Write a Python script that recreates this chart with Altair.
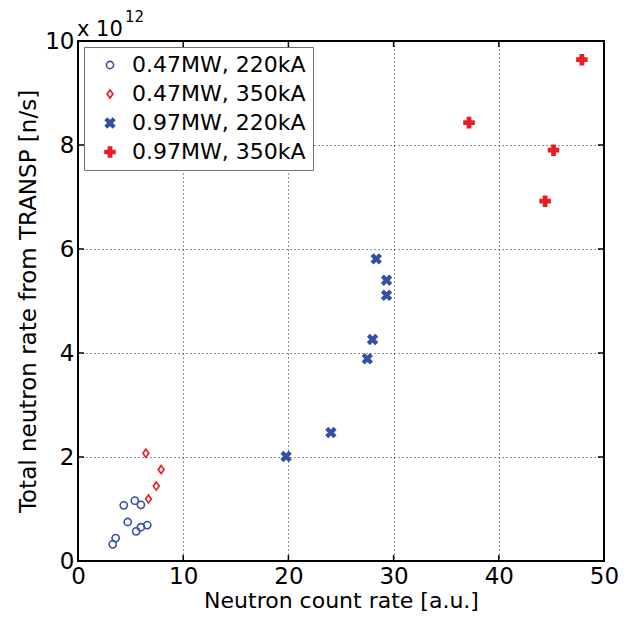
import altair as alt
import pandas as pd

series_names = ["0.47MW, 220kA", "0.47MW, 350kA", "0.97MW, 220kA", "0.97MW, 350kA"]

x_047_220 = [3.3, 3.58, 4.35, 4.73, 5.4, 5.98, 5.53, 5.98, 6.58]
y_047_220 = [0.32, 0.44, 1.07, 0.75, 1.16, 1.08, 0.57, 0.65, 0.69]

x_047_350 = [6.45, 7.9, 7.44, 6.7]
y_047_350 = [2.07, 1.76, 1.44, 1.19]

x_097_220 = [28.35, 29.33, 29.33, 28.0, 27.5, 24.04, 19.78]
y_097_220 = [5.81, 5.40, 5.11, 4.26, 3.89, 2.47, 2.01]

x_097_350 = [47.9, 37.17, 45.2, 44.4]
y_097_350 = [9.64, 8.43, 7.9, 6.92]

x_ticks = [0, 10, 20, 30, 40, 50]
y_ticks = [0, 2, 4, 6, 8, 10]

rows = []
for name, xs, ys in zip(series_names,
                        [x_047_220, x_047_350, x_097_220, x_097_350],
                        [y_047_220, y_047_350, y_097_220, y_097_350]):
    for a, b in zip(xs, ys):
        rows.append({"series": name, "x": a, "y": b})
df = pd.DataFrame(rows)

BLUE = "#3450A2"
RED = "#EC1C24"
DIAMOND_PATH = "M0,-1L0.72,0L0,1L-0.72,0Z"
X_PATH = ("M-1,-0.6L-0.6,-1L0,-0.4L0.6,-1L1,-0.6L0.4,0L1,0.6L0.6,1L0,0.4"
          "L-0.6,1L-1,0.6L-0.4,0Z")
PLUS_PATH = ("M-0.3,-1L0.3,-1L0.3,-0.3L1,-0.3L1,0.3L0.3,0.3L0.3,1L-0.3,1"
             "L-0.3,0.3L-1,0.3L-1,-0.3L-0.3,-0.3Z")

W, H = 526, 520
FONT = "DejaVu Sans"

xscale = alt.Scale(domain=[0, 50], nice=False)
yscale = alt.Scale(domain=[0, 10], nice=False)

points = alt.Chart(df).mark_point(filled=False, opacity=1, fillOpacity=1).encode(
    x=alt.X("x:Q", scale=xscale,
            axis=alt.Axis(values=x_ticks, title="Neutron count rate [a.u.]",
                          labelPadding=4, titlePadding=2)),
    y=alt.Y("y:Q", scale=yscale,
            axis=alt.Axis(values=y_ticks, title="Total neutron rate from TRANSP  [n/s]",
                          labelPadding=4, titlePadding=4, titleFontSize=23)),
    color=alt.Color("series:N", scale=alt.Scale(domain=series_names, range=[BLUE, RED, BLUE, RED]),
                    legend=alt.Legend(title=None)),
    fill=alt.Fill("series:N", scale=alt.Scale(domain=series_names,
                                              range=["transparent", "transparent", BLUE, RED]),
                  legend=alt.Legend(title=None)),
    shape=alt.Shape("series:N", scale=alt.Scale(domain=series_names,
                                                range=["circle", DIAMOND_PATH, X_PATH, PLUS_PATH]),
                    legend=alt.Legend(title=None)),
    strokeWidth=alt.StrokeWidth("series:N", scale=alt.Scale(domain=series_names, range=[1.6, 1.8, 0.8, 0.8]),
                                legend=alt.Legend(title=None)),
    size=alt.Size("series:N", scale=alt.Scale(domain=series_names, range=[52, 95, 120, 120]),
                  legend=None),
)

tick_df = pd.DataFrame({"v": x_ticks})
ytick_df = pd.DataFrame({"v": y_ticks})
xt_bottom = alt.Chart(tick_df).mark_rule(color="black", strokeWidth=1.5).encode(
    x=alt.X("v:Q", scale=xscale), y=alt.value(H), y2=alt.value(H - 6))
xt_top = alt.Chart(tick_df).mark_rule(color="black", strokeWidth=1.5).encode(
    x=alt.X("v:Q", scale=xscale), y=alt.value(0), y2=alt.value(6))
yt_left = alt.Chart(ytick_df).mark_rule(color="black", strokeWidth=1.5).encode(
    y=alt.Y("v:Q", scale=yscale), x=alt.value(0), x2=alt.value(6))
yt_right = alt.Chart(ytick_df).mark_rule(color="black", strokeWidth=1.5).encode(
    y=alt.Y("v:Q", scale=yscale), x=alt.value(W), x2=alt.value(W - 6))

exp_base = alt.Chart(pd.DataFrame({"t": ["x 10"]})).mark_text(
    font=FONT, fontSize=21, align="left", baseline="alphabetic", color="black").encode(
    text="t:N", x=alt.value(-1), y=alt.value(-5))
exp_pow = alt.Chart(pd.DataFrame({"t": ["12"]})).mark_text(
    font=FONT, fontSize=15, align="left", baseline="alphabetic", color="black").encode(
    text="t:N", x=alt.value(47), y=alt.value(-19))

chart = alt.layer(xt_bottom, xt_top, yt_left, yt_right, points, exp_base, exp_pow).resolve_scale(
    x="shared", y="shared"
).properties(
    width=W, height=H,
    autosize=alt.AutoSizeParams(type="none"),
    padding={"left": 70, "top": 33, "right": 20, "bottom": 60},
).configure_view(
    stroke="black", strokeWidth=2
).configure_axis(
    labelFlush=False, grid=True, gridDash=[1, 3], gridColor="#000000", gridOpacity=0.85,
    domain=False, ticks=False, labelFontSize=23, titleFontSize=22, titleFontWeight="normal",
    labelFont=FONT, titleFont=FONT, labelColor="#000", titleColor="#000"
).configure_legend(
    orient="none", legendX=6, legendY=6,
    padding=7, fillColor="white", strokeColor="#707070",
    labelFontSize=22, labelFont=FONT, labelColor="#000", labelLimit=0,
    symbolOffset=8, labelOffset=11, rowPadding=7, symbolSize=40,
    cornerRadius=0,
)

chart.save("out.html", embed_options={"renderer": "svg", "actions": False})
